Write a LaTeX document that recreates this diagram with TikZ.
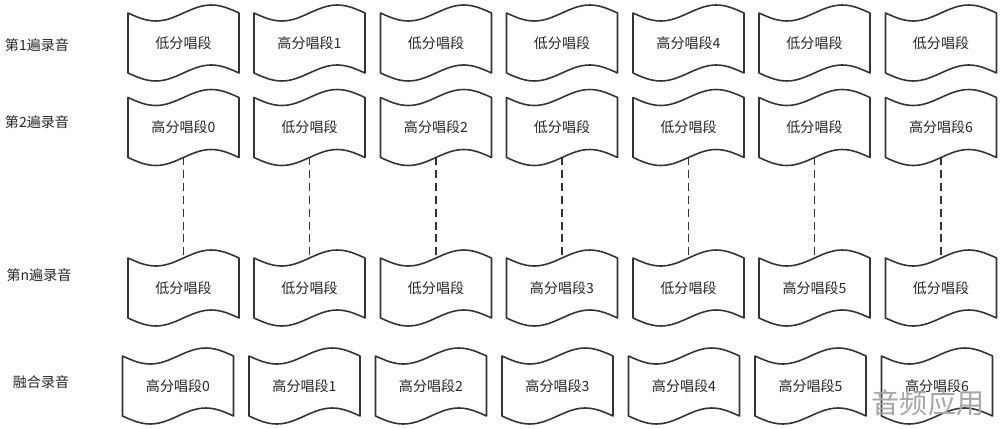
\documentclass[tikz,border=0pt]{standalone}
\usepackage{fontspec}
\setmainfont{Noto Sans CJK SC}
\usepackage{tikz}
\tikzset{
  segbox/.style={minimum width=2.22cm, minimum height=1.2cm, inner sep=0pt, outer sep=0pt, font=\fontsize{8}{10}\selectfont, text=black!85},
  segline/.style={line width=0.9pt, color=black!80, line join=round},
  gapline/.style={line width=0.9pt, color=black!80, dash pattern=on 4.5pt off 2.8pt},
  passlabel/.style={font=\fontsize{8}{10}\selectfont, text=black!85}
}
\def\tapeseg(#1)(#2)#3{%
  \node[segbox] (#1) at (#2) {#3};
  \draw[segline] (#1.north west) sin ++(27.75,8) cos ++(27.75,-8) sin ++(27.75,-8) cos ++(27.75,8)
    -- (#1.south east) sin ++(-27.75,-8) cos ++(-27.75,8) sin ++(-27.75,8) cos ++(-27.75,-8) -- cycle;}

\begin{document}
\begin{tikzpicture}[x=0.02cm, y=-0.02cm]
			%%%%% START %%%%%
			\useasboundingbox (0, 0) rectangle (1000, 429);
			
			\node[passlabel] (pass1) at (37, 45) {第1遍录音};
			\node[passlabel] (pass2) at (37, 122) {第2遍录音};
			\node[passlabel] (passn) at (39, 275) {第n遍录音};
			\node[passlabel] (mix) at (41, 382) {融合录音};
			
			\tapeseg(p1s1)(183.5, 43){低分唱段}
			\tapeseg(p1s2)(309.5, 43){高分唱段1}
			\tapeseg(p1s3)(436, 43){低分唱段}
			\tapeseg(p1s4)(562, 43){低分唱段}
			\tapeseg(p1s5)(688.5, 43){高分唱段4}
			\tapeseg(p1s6)(814.5, 43){低分唱段}
			\tapeseg(p1s7)(941, 43){低分唱段}
			
			\tapeseg(p2s1)(183.5, 127.5){高分唱段0}
			\tapeseg(p2s2)(309.5, 127.5){低分唱段}
			\tapeseg(p2s3)(436, 127.5){高分唱段2}
			\tapeseg(p2s4)(562, 127.5){低分唱段}
			\tapeseg(p2s5)(688.5, 127.5){低分唱段}
			\tapeseg(p2s6)(814.5, 127.5){低分唱段}
			\tapeseg(p2s7)(941, 127.5){高分唱段6}
			
			\tapeseg(pns1)(183.5, 288){低分唱段}
			\tapeseg(pns2)(309.5, 288){低分唱段}
			\tapeseg(pns3)(436, 288){低分唱段}
			\tapeseg(pns4)(562, 288){高分唱段3}
			\tapeseg(pns5)(688.5, 288){低分唱段}
			\tapeseg(pns6)(814.5, 288){高分唱段5}
			\tapeseg(pns7)(941, 288){低分唱段}
			
			\draw[gapline] (p2s1.south) -- (pns1.north);
			\draw[gapline] (p2s2.south) -- (pns2.north);
			\draw[gapline] (p2s3.south) -- (pns3.north);
			\draw[gapline] (p2s4.south) -- (pns4.north);
			\draw[gapline] (p2s5.south) -- (pns5.north);
			\draw[gapline] (p2s6.south) -- (pns6.north);
			\draw[gapline] (p2s7.south) -- (pns7.north);
			
			\tapeseg(mix1)(178, 386){高分唱段0}
			\tapeseg(mix2)(304.5, 386){高分唱段1}
			\tapeseg(mix3)(431, 386){高分唱段2}
			\tapeseg(mix4)(557.5, 386){高分唱段3}
			\tapeseg(mix5)(684, 386){高分唱段4}
			\tapeseg(mix6)(810.5, 386){高分唱段5}
			\tapeseg(mix7)(937, 386){高分唱段6}
			
			\node[font=\fontsize{16}{18}\selectfont, text=black!35] (mark) at (928, 403) {音频应用};
			%%%%% END %%%%%
\end{tikzpicture}
\end{document}
